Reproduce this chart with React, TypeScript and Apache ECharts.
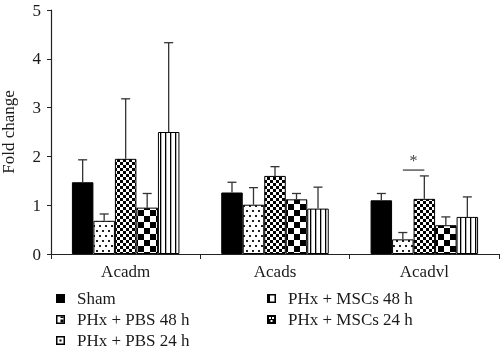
import React, { useEffect, useRef } from "react";
import * as echarts from "echarts";

const categories = ["Acadm", "Acads", "Acadvl"];
const groupNames = ["Sham", "PHx + PBS 24 h", "PHx + PBS 48 h", "PHx + MSCs 24 h", "PHx + MSCs 48 h"];
const shamMean = [1.47, 1.26, 1.1];
const pbs24Mean = [0.68, 1.01, 0.3];
const pbs48Mean = [1.95, 1.6, 1.13];
const mscs24Mean = [0.95, 1.12, 0.59];
const mscs48Mean = [2.5, 0.93, 0.76];
const shamErr = [0.46, 0.21, 0.14];
const pbs24Err = [0.14, 0.35, 0.14];
const pbs48Err = [1.23, 0.19, 0.47];
const mscs24Err = [0.29, 0.12, 0.17];
const mscs48Err = [1.83, 0.44, 0.41];
// significance: [category, fromGroup, toGroup, level]
const significance = [[2, 1, 2, 1.72]];
const legendCol1 = ["Sham", "PHx + PBS 48 h", "PHx + PBS 24 h"];
const legendCol2 = ["PHx + MSCs 48 h", "PHx + MSCs 24 h"];

const FONT = '"Liberation Serif", "DejaVu Serif", serif';
const GAP = 0.28;

function makeCanvas(w: number, h: number, draw: (ctx: CanvasRenderingContext2D) => void) {
  const c = document.createElement("canvas");
  c.width = w;
  c.height = h;
  const ctx = c.getContext("2d") as CanvasRenderingContext2D;
  ctx.fillStyle = "#fff";
  ctx.fillRect(0, 0, w, h);
  ctx.fillStyle = "#000";
  draw(ctx);
  return c;
}

function pattern(w: number, h: number, draw: (ctx: CanvasRenderingContext2D) => void, repeat = "repeat") {
  return { image: makeCanvas(w, h, draw), repeat, imageWidth: w, imageHeight: h } as any;
}

export default function App() {
  const ref = useRef<HTMLDivElement>(null);
  useEffect(() => {
    if (!ref.current) return;
    const chart = echarts.init(ref.current, null, { renderer: "svg" });

    const fills = [
      "#000",
      pattern(6, 10, (ctx) => {
        ctx.fillStyle = "#222";
        ctx.fillRect(0, 0, 2, 2);
        ctx.fillRect(3, 5, 2, 2);
      }),
      pattern(6, 6, (ctx) => {
        ctx.fillRect(0, 0, 3, 3);
        ctx.fillRect(3, 3, 3, 3);
      }),
      pattern(12, 12, (ctx) => {
        ctx.fillRect(0, 0, 6, 6);
        ctx.fillRect(6, 6, 6, 6);
      }),
      pattern(5, 5, (ctx) => {
        ctx.fillRect(0, 0, 1.3, 5);
      }),
    ];

    const frame = (ctx: CanvasRenderingContext2D) => {
      ctx.fillRect(0, 0, 9, 1.5);
      ctx.fillRect(0, 7.5, 9, 1.5);
      ctx.fillRect(0, 0, 1.5, 9);
      ctx.fillRect(7.5, 0, 1.5, 9);
    };
    const icons: Record<string, any> = {
      Sham: pattern(9, 9, (ctx) => ctx.fillRect(0, 0, 9, 9), "no-repeat"),
      "PHx + PBS 48 h": pattern(9, 9, (ctx) => {
        frame(ctx);
        ctx.fillRect(4.5, 4.5, 3, 3);
        ctx.fillRect(4.5, 1.5, 3, 1.5);
      }, "no-repeat"),
      "PHx + PBS 24 h": pattern(9, 9, (ctx) => {
        frame(ctx);
        ctx.fillRect(3.5, 3.5, 2, 2);
      }, "no-repeat"),
      "PHx + MSCs 48 h": pattern(9, 9, (ctx) => {
        frame(ctx);
        ctx.fillRect(0, 0, 3, 9);
      }, "no-repeat"),
      "PHx + MSCs 24 h": pattern(9, 9, (ctx) => {
        ctx.fillRect(0, 0, 9, 9);
        ctx.fillStyle = "#fff";
        ctx.fillRect(2, 2, 2, 2);
        ctx.fillRect(5, 2, 2, 2);
        ctx.fillRect(3.5, 5, 2, 2);
      }, "no-repeat"),
    };

    const means = [shamMean, pbs24Mean, pbs48Mean, mscs24Mean, mscs48Mean];
    const errs = [shamErr, pbs24Err, pbs48Err, mscs24Err, mscs48Err];
    const errData: number[][] = [];
    means.forEach((m, s) =>
      m.forEach((v, c) => errData.push([c, s, v, +(v + errs[s][c]).toFixed(3)]))
    );

    const barSeries = groupNames.map((name, i) => ({
      name,
      type: "bar",
      data: means[i],
      barGap: "0%",
      barCategoryGap: GAP * 100 + "%",
      itemStyle: { color: fills[i], borderColor: "#000", borderWidth: 1 },
      emphasis: { disabled: true },
    }));

    const legendBase = {
      orient: "vertical",
      icon: "rect",
      itemWidth: 9,
      itemHeight: 9,
      itemGap: 4,
      padding: 0,
      height: 80,
      selectedMode: false,
      itemStyle: { borderWidth: 0 },
      textStyle: { fontFamily: FONT, fontSize: 17, color: "#1a1a1a", padding: [0, 0, 0, 7] },
    };

    chart.setOption({
      animation: false,
      grid: { left: 51, right: 1, top: 10, bottom: 100, containLabel: false, outerBoundsMode: "none" },
      legend: [
        {
          ...legendBase,
          left: 56,
          top: 290,
          data: legendCol1.map((n) => ({ name: n, itemStyle: { color: icons[n], borderWidth: 0 } })),
        },
        {
          ...legendBase,
          left: 267,
          top: 290,
          data: legendCol2.map((n) => ({ name: n, itemStyle: { color: icons[n], borderWidth: 0 } })),
        },
      ],
      xAxis: {
        type: "category",
        data: categories,
        axisLine: { lineStyle: { color: "#222", width: 1.2 } },
        axisTick: { show: true, length: 5, lineStyle: { color: "#222" } },
        axisLabel: { fontFamily: FONT, fontSize: 17, color: "#1a1a1a", margin: 9 },
      },
      yAxis: {
        type: "value",
        min: 0,
        max: 5,
        interval: 1,
        name: "Fold change",
        nameLocation: "middle",
        nameGap: 34,
        nameTextStyle: { fontFamily: FONT, fontSize: 17, color: "#1a1a1a" },
        splitLine: { show: false },
        axisLine: { show: true, lineStyle: { color: "#222", width: 1.2 } },
        axisTick: { show: true, length: 4, lineStyle: { color: "#222" } },
        axisLabel: { fontFamily: FONT, fontSize: 17, color: "#1a1a1a", margin: 10 },
      },
      series: [
        ...barSeries,
        {
          type: "custom",
          name: "err",
          data: errData,
          encode: { x: 0, y: 3 },
          z: 5,
          renderItem: (params: any, api: any) => {
            const c = api.value(0);
            const s = api.value(1);
            const m = api.value(2);
            const t = api.value(3);
            const band = api.size([1, 0])[0];
            const barW = (band * (1 - GAP)) / 5;
            const cx = api.coord([c, 0])[0] + (s - 2) * barW;
            const y0 = api.coord([c, m])[1];
            const y1 = api.coord([c, t])[1];
            const st = { stroke: "#333", lineWidth: 1.3 };
            return {
              type: "group",
              children: [
                { type: "line", shape: { x1: cx, y1: y0, x2: cx, y2: y1 }, style: st },
                { type: "line", shape: { x1: cx - 4.5, y1: y1, x2: cx + 4.5, y2: y1 }, style: st },
              ],
            };
          },
        },
        {
          type: "custom",
          name: "sig",
          data: significance,
          encode: { x: 0, y: 3 },
          z: 5,
          renderItem: (params: any, api: any) => {
            const c = api.value(0);
            const a = api.value(1);
            const b = api.value(2);
            const lv = api.value(3);
            const band = api.size([1, 0])[0];
            const barW = (band * (1 - GAP)) / 5;
            const base = api.coord([c, lv]);
            const xa = base[0] + (a - 2) * barW;
            const xb = base[0] + (b - 2) * barW;
            return {
              type: "group",
              children: [
                { type: "line", shape: { x1: xa, y1: base[1], x2: xb, y2: base[1] }, style: { stroke: "#333", lineWidth: 1.2 } },
                {
                  type: "text",
                  x: (xa + xb) / 2,
                  y: base[1] - 2,
                  style: { text: "*", fontFamily: FONT, fontSize: 16, fill: "#444", align: "center", verticalAlign: "bottom" },
                },
              ],
            };
          },
        },
      ],
    });
    return () => chart.dispose();
  }, []);
  return <div ref={ref} style={{ position: "fixed", left: 0, top: 0, width: 500, height: 354 }} />;
}
